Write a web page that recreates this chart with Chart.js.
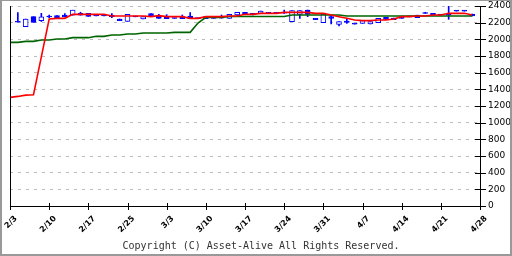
<!DOCTYPE html>
<html>
<head>
<meta charset="utf-8">
<script src="https://cdn.jsdelivr.net/npm/chart.js@4/dist/chart.umd.min.js"></script>
<style>
  html, body { margin: 0; padding: 0; background: #fff; }
</style>
</head>
<body>
<canvas id="stock-chart" width="512" height="256"></canvas>
<script>
const weekLabels = ['2/3', '2/10', '2/17', '2/25', '3/3', '3/10', '3/17', '3/24', '3/31', '4/7', '4/14', '4/21', '4/28'];
const yTicks = [0, 200, 400, 600, 800, 1000, 1200, 1400, 1600, 1800, 2000, 2200, 2400];

// daily prices, one entry per weekday slot (slot 0 has no candle)
const opens = [null, 2210, 2152, 2272, 2224, 2275, 2284, 2290, 2290, 2312, 2312, 2286, 2286, 2292, 2244, 2216, 2274, 2244, 2308, 2284,
    2280, 2256, 2272, 2280, 2256, 2272, 2256, 2262, 2252, 2292, 2324, 2312, 2312, 2324, 2324, 2322, 2212, 2300, 2352, 2252,
    2200, 2272, 2180, 2220, 2186, 2192, 2184, 2200, 2264, 2256, 2272, 2274, 2290, 2314, 2312, 2294, 2294, 2342, 2342, 2304];
const closes = [null, 2205, 2244, 2204, 2270, 2268, 2260, 2268, 2350, 2290, 2275, 2282, 2282, 2272, 2224, 2300, 2270, 2272, 2284, 2252,
    2248, 2250, 2248, 2248, 2248, 2248, 2252, 2254, 2300, 2324, 2300, 2292, 2340, 2312, 2312, 2314, 2344, 2344, 2300, 2236,
    2304, 2252, 2212, 2204, 2182, 2224, 2212, 2252, 2240, 2236, 2252, 2270, 2260, 2310, 2292, 2290, 2290, 2338, 2338, 2280];
const highs = [null, 2320, 2244, 2272, 2312, 2290, 2284, 2310, 2350, 2325, 2312, 2286, 2286, 2310, 2244, 2300, 2274, 2272, 2308, 2300,
    2296, 2256, 2292, 2320, 2256, 2272, 2256, 2292, 2300, 2324, 2324, 2312, 2340, 2324, 2324, 2350, 2344, 2344, 2352, 2252,
    2304, 2284, 2212, 2240, 2186, 2224, 2212, 2252, 2264, 2256, 2272, 2274, 2290, 2325, 2312, 2294, 2400, 2342, 2342, 2304];
const lows = [null, 2205, 2152, 2204, 2215, 2260, 2260, 2268, 2290, 2290, 2275, 2282, 2282, 2260, 2224, 2216, 2270, 2244, 2284, 2252,
    2248, 2250, 2248, 2248, 2248, 2248, 2252, 2254, 2252, 2272, 2300, 2292, 2312, 2312, 2312, 2312, 2212, 2252, 2272, 2236,
    2200, 2184, 2160, 2192, 2182, 2192, 2184, 2200, 2240, 2236, 2252, 2270, 2260, 2310, 2292, 2290, 2240, 2338, 2338, 2280];

// moving averages
const maShort = [1304, 1315, 1330, 1335, 1790, 2244, 2252, 2252, 2300, 2300, 2300, 2300, 2300, 2280, 2280, 2280, 2280, 2280, 2272, 2284,
    2272, 2272, 2272, 2252, 2252, 2272, 2272, 2272, 2280, 2280, 2300, 2300, 2312, 2312, 2312, 2324, 2324, 2324, 2324, 2312,
    2312, 2292, 2272, 2252, 2232, 2224, 2224, 2232, 2232, 2244, 2272, 2272, 2280, 2280, 2292, 2292, 2312, 2312, 2312, 2292];
const maLong = [1964, 1964, 1976, 1976, 1992, 1992, 2004, 2004, 2020, 2020, 2020, 2036, 2036, 2052, 2052, 2064, 2064, 2076, 2076, 2076,
    2076, 2084, 2084, 2084, 2195, 2264, 2264, 2264, 2274, 2274, 2274, 2274, 2274, 2274, 2274, 2274, 2292, 2292, 2292, 2292,
    2292, 2292, 2292, 2280, 2280, 2280, 2280, 2280, 2280, 2280, 2280, 2280, 2280, 2280, 2280, 2280, 2280, 2280, 2280, 2280];

const slotLabels = [];
for (let i = 0; i <= (weekLabels.length - 1) * 5; i++) {
    slotLabels.push(i % 5 === 0 ? weekLabels[i / 5] : '');
}

const wickData = opens.map((o, i) => o === null ? null : [lows[i], highs[i]]);
const bodyData = opens.map((o, i) => o === null ? null : [o, closes[i]]);
const bodyColors = opens.map((o, i) => (o !== null && closes[i] >= o) ? '#ffffff' : '#0000ff');

const framePlugin = {
    id: 'frame',
    beforeDraw(chart) {
        const c = chart.ctx;
        c.save();
        c.fillStyle = '#ffffff';
        c.fillRect(0, 0, chart.width, chart.height);
        c.restore();
    },
    afterDraw(chart) {
        const c = chart.ctx;
        const area = chart.chartArea;
        const xs = chart.scales.x;
        const ys = chart.scales.y;
        c.save();
        c.strokeStyle = '#000000';
        c.lineWidth = 1;
        c.beginPath();
        c.moveTo(area.left + 0.5, area.top);
        c.lineTo(area.left + 0.5, area.bottom);
        yTicks.forEach(v => {
            const py = Math.round(ys.getPixelForValue(v)) + 0.5;
            c.moveTo(area.right - 5, py);
            c.lineTo(area.right + 6, py);
        });
        weekLabels.forEach((_, k) => {
            const px = Math.round(xs.getPixelForValue(k * 5)) + 0.5;
            c.moveTo(px, area.bottom - 3);
            c.lineTo(px, area.bottom + 4);
        });
        c.stroke();
        c.fillStyle = '#999999';
        c.fillRect(0, 0, chart.width, 1);
        c.fillRect(0, 0, 2, chart.height);
        c.fillRect(chart.width - 2, 0, 2, chart.height);
        c.fillRect(0, chart.height - 2, chart.width, 2);
        c.restore();
    }
};

const ctx = document.getElementById('stock-chart').getContext('2d');

const stockChart = new Chart(ctx, {
    type: 'bar',
    data: {
        labels: slotLabels,
        datasets: [
            {
                type: 'line',
                data: maShort,
                borderColor: '#ff0000',
                borderWidth: 1.6,
                pointRadius: 0,
                tension: 0,
                order: 0
            },
            {
                type: 'line',
                data: maLong,
                borderColor: '#006400',
                borderWidth: 1.6,
                pointRadius: 0,
                tension: 0,
                order: 1
            },
            {
                data: bodyData,
                backgroundColor: bodyColors,
                borderColor: '#0000ff',
                borderWidth: 1,
                borderSkipped: false,
                barThickness: 5,
                minBarLength: 1,
                grouped: false,
                order: 2
            },
            {
                data: wickData,
                backgroundColor: '#0000ff',
                borderWidth: 0,
                barThickness: 1,
                grouped: false,
                order: 3
            }
        ]
    },
    options: {
        responsive: false,
        animation: false,
        layout: {
            padding: { left: 10, top: 6, right: 0, bottom: 0 }
        },
        plugins: {
            legend: { display: false },
            tooltip: { enabled: false },
            title: {
                display: true,
                position: 'bottom',
                text: 'Copyright (C) Asset-Alive All Rights Reserved.',
                color: '#333333',
                font: { family: 'DejaVu Sans Mono', size: 10, weight: 'normal' },
                padding: { top: 0, bottom: 4 }
            }
        },
        scales: {
            x: {
                type: 'category',
                offset: false,
                grid: { display: false },
                border: { display: true, color: '#000000', width: 1 },
                ticks: {
                    autoSkip: false,
                    maxRotation: 45,
                    minRotation: 45,
                    padding: 0,
                    labelOffset: 6,
                    color: '#000000',
                    font: { family: 'DejaVu Sans', size: 8, weight: 'bold' }
                },
                afterFit: function (scale) {
                    scale.height = 34;
                    scale.paddingLeft = 0;
                    scale.paddingRight = 0;
                }
            },
            y: {
                position: 'right',
                min: 0,
                max: 2400,
                grid: { color: '#bbbbbb', drawTicks: false },
                border: { display: true, color: '#000000', width: 1, dash: [3, 5] },
                ticks: {
                    stepSize: 200,
                    padding: 8,
                    color: '#000000',
                    font: { family: 'DejaVu Sans', size: 9 },
                    callback: v => String(v)
                },
                afterFit: function (scale) {
                    scale.width = 32;
                    scale.paddingTop = 0;
                    scale.paddingBottom = 0;
                }
            }
        }
    },
    plugins: [framePlugin]
});
</script>
</body>
</html>
